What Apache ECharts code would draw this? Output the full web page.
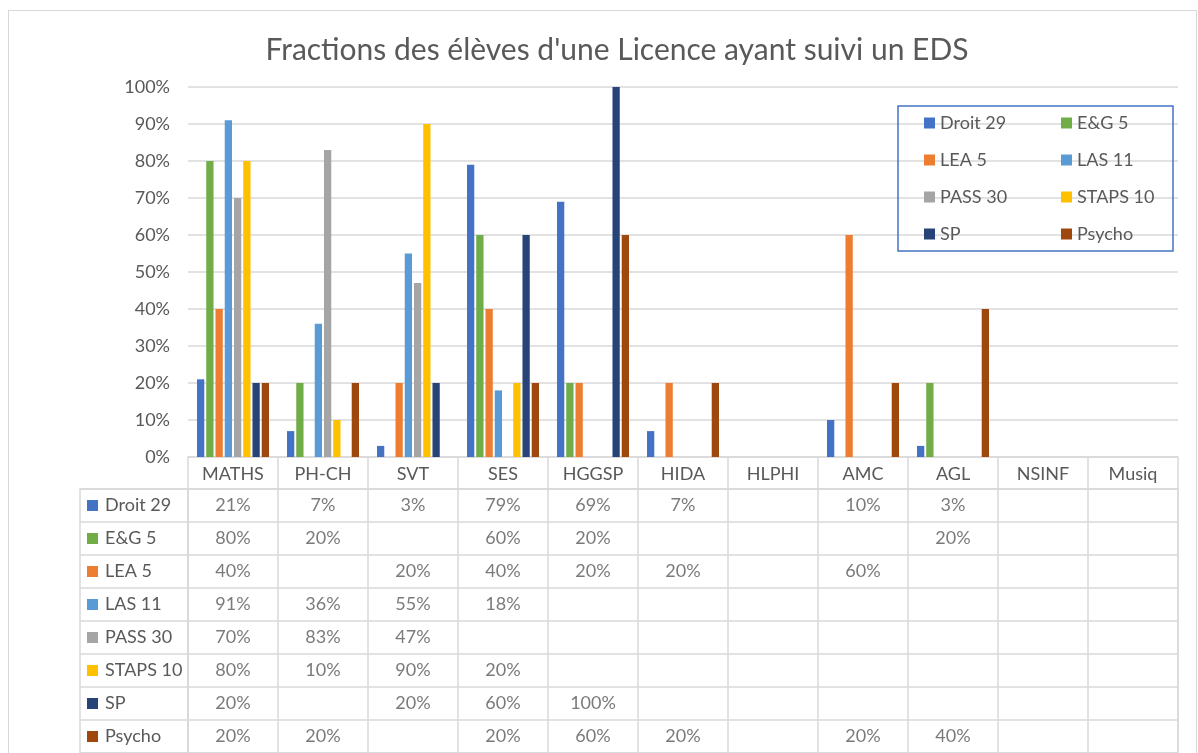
<!DOCTYPE html>
<html>
<head>
<meta charset="utf-8">
<script src="https://cdn.jsdelivr.net/npm/echarts@6/dist/echarts.min.js"></script>
<style>
  html, body { margin: 0; padding: 0; background: #fff; }
  #frame { position: absolute; left: 8px; top: 10px; width: 1187px; height: 760px; border: 1px solid #d9d9d9; }
  #chart { position: absolute; left: 0; top: 0; width: 1198px; height: 753px; }
</style>
</head>
<body>
<div id="frame"></div>
<div id="chart"></div>
<script>
// subjects (EDS) on the category axis
const categories = ['MATHS', 'PH-CH', 'SVT', 'SES', 'HGGSP', 'HIDA', 'HLPHI', 'AMC', 'AGL', 'NSINF', 'Musiq']

// one array per licence, values in %
const droit29 = [21, 7, 3, 79, 69, 7, null, 10, 3, null, null]
const eg5 = [80, 20, null, 60, 20, null, null, null, 20, null, null]
const lea5 = [40, null, 20, 40, 20, 20, null, 60, null, null, null]
const las11 = [91, 36, 55, 18, null, null, null, null, null, null, null]
const pass30 = [70, 83, 47, null, null, null, null, null, null, null, null]
const staps10 = [80, 10, 90, 20, null, null, null, null, null, null, null]
const sp = [20, null, 20, 60, 100, null, null, null, null, null, null]
const psycho = [20, 20, null, 20, 60, 20, null, 20, 40, null, null]

const seriesNames = ['Droit 29', 'E&G 5', 'LEA 5', 'LAS 11', 'PASS 30', 'STAPS 10', 'SP', 'Psycho']
const seriesValues = [droit29, eg5, lea5, las11, pass30, staps10, sp, psycho]
const colors = ['#4472C4', '#70AD47', '#ED7D31', '#5B9BD5', '#A5A5A5', '#FFC000', '#264478', '#9E480E']

const textColor = '#595959'
const lineColor = '#d9d9d9'
const font = 'Lato, "Open Sans", sans-serif'
const fs = 18

const chart = echarts.init(document.getElementById('chart'), null, { renderer: 'canvas' })

// bars of the main chart
const barSeries = seriesNames.map((name, i) => ({
  name: name,
  type: 'bar',
  xAxisIndex: 0,
  yAxisIndex: 0,
  barCategoryGap: '20%',
  barGap: '27%',
  itemStyle: { color: colors[i] },
  data: seriesValues[i]
}))

// data table cells: [column, row, value]
const cells = []
seriesValues.forEach((vals, row) => {
  vals.forEach((v, col) => {
    if (v !== null) cells.push([col, row, v])
  })
})

const rowRich = {}
colors.forEach((c, i) => {
  rowRich['m' + i] = { backgroundColor: c, width: 11, height: 11 }
})
rowRich.t = { color: textColor, fontSize: fs, fontFamily: font, padding: [0, 0, 0, 7] }

const tableTop = 489
const rowH = 33.6

const legendBase = {
  orient: 'vertical',
  itemGap: 17,
  itemWidth: 11,
  itemHeight: 11,
  icon: 'rect'
}

const option = {
  animation: false,
  color: colors,
  title: {
    text: "Fractions des élèves d'une Licence ayant suivi un EDS",
    left: 612,
    top: 30,
    textAlign: 'center',
    textStyle: { color: textColor, fontSize: 30, fontWeight: 'normal', fontFamily: font }
  },
  legend: [
    Object.assign({}, legendBase, {
      data: ['Droit 29', 'LEA 5', 'PASS 30', 'SP'],
      left: 898,
      top: 106,
      padding: [7, 153, 7, 26],
      borderColor: '#4472C4',
      borderWidth: 1.5,
      textStyle: { color: textColor, fontSize: fs, fontFamily: font, lineHeight: 20, width: 80 }
    }),
    Object.assign({}, legendBase, {
      data: ['E&G 5', 'LAS 11', 'STAPS 10', 'Psycho'],
      left: 1061,
      top: 113,
      padding: 0,
      textStyle: { color: textColor, fontSize: fs, fontFamily: font, lineHeight: 20 }
    })
  ],
  grid: [
    { left: 188, right: 20, top: 87, height: 370 },
    { left: 188, right: 20, top: tableTop, height: rowH * 8, show: true, borderColor: lineColor, borderWidth: 1.5 },
    { left: 80, width: 108, top: tableTop, height: rowH * 8, show: true, borderColor: lineColor, borderWidth: 1.5 }
  ],
  xAxis: [
    {
      type: 'category',
      gridIndex: 0,
      data: categories,
      axisLine: { lineStyle: { color: lineColor, width: 1.5 } },
      axisTick: { show: true, length: 32, interval: 0, lineStyle: { color: lineColor, width: 1.5 } },
      axisLabel: { interval: 0, margin: 8, color: textColor, fontSize: fs, fontFamily: font }
    },
    {
      type: 'category',
      gridIndex: 1,
      data: categories,
      axisLine: { show: false },
      axisTick: { show: false },
      axisLabel: { show: false },
      splitLine: { show: true, interval: 0, lineStyle: { color: lineColor, width: 1.5 } }
    },
    {
      type: 'value',
      gridIndex: 2,
      show: false
    }
  ],
  yAxis: [
    {
      type: 'value',
      gridIndex: 0,
      min: 0,
      max: 100,
      interval: 10,
      axisLine: { show: false },
      axisTick: { show: false },
      axisLabel: { formatter: '{value}%', margin: 18, color: textColor, fontSize: fs, fontFamily: font },
      splitLine: { lineStyle: { color: lineColor, width: 1.5 } }
    },
    {
      type: 'category',
      gridIndex: 1,
      inverse: true,
      data: seriesNames,
      axisLine: { show: false },
      axisTick: { show: false },
      axisLabel: { show: false },
      splitLine: { show: true, interval: 0, lineStyle: { color: lineColor, width: 1.5 } }
    },
    {
      type: 'category',
      gridIndex: 2,
      inverse: true,
      data: seriesNames,
      axisLine: { show: false },
      axisTick: { show: false },
      splitLine: { show: true, interval: 0, lineStyle: { color: lineColor, width: 1.5 } },
      axisLabel: {
        inside: true,
        margin: 7,
        align: 'left',
        formatter: (value, idx) => '{m' + idx + '|}{t|' + value + '}',
        rich: rowRich
      }
    }
  ],
  series: barSeries.concat([
    {
      type: 'scatter',
      xAxisIndex: 1,
      yAxisIndex: 1,
      symbolSize: 1,
      itemStyle: { color: 'rgba(0,0,0,0)' },
      label: {
        show: true,
        position: 'inside',
        color: textColor,
        fontSize: fs,
        fontFamily: font,
        formatter: p => p.value[2] + '%'
      },
      data: cells
    }
  ])
}

chart.setOption(option)
</script>
</body>
</html>
